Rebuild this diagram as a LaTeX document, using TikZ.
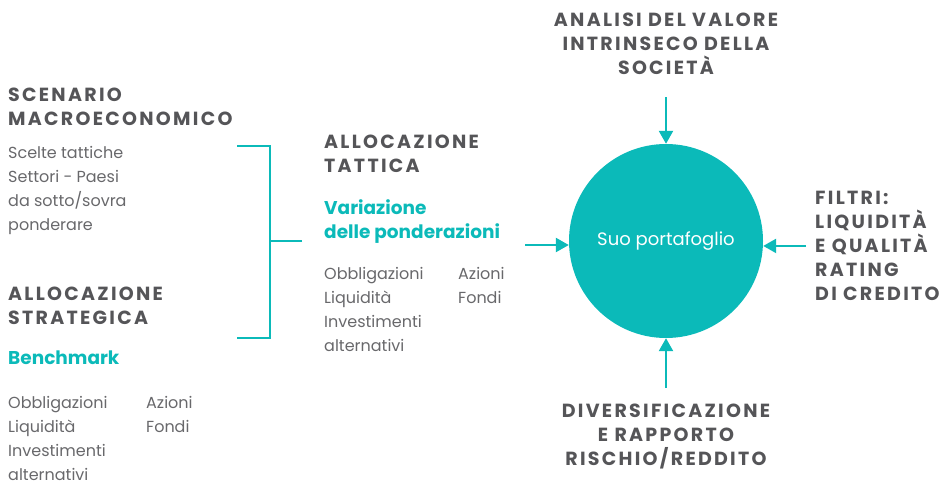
\documentclass[tikz,border=0pt]{standalone}
\usepackage{fontspec}
\setmainfont{Poppins}
\newfontfamily\titlefont[LetterSpace=12]{Poppins}
\usetikzlibrary{positioning, arrows.meta}

\definecolor{acqua}{HTML}{0BBAB9}
\definecolor{grigio}{HTML}{555558}
\definecolor{testo}{HTML}{68686B}

\tikzset{
  titolo/.style={font=\titlefont\bfseries\fontsize{19}{24}\selectfont, text=grigio,
                 align=left, inner sep=0pt, anchor=north west},
  corpo/.style={font=\fontsize{16}{24}\selectfont, text=testo, align=left,
                inner sep=0pt, anchor=north west},
  evid/.style={font=\bfseries\fontsize{18.5}{24}\selectfont, text=acqua, align=left,
               inner sep=0pt, anchor=north west},
  freccia/.style={draw=acqua, line width=2.4pt, -{Triangle[length=13pt,width=14pt]}},
  parentesi/.style={draw=acqua, line width=2.4pt},
}

\begin{document}
\begin{tikzpicture}[x=1pt, y=-1pt]
  \useasboundingbox (0,0) rectangle (942,482);

  % colonna sinistra
  \node[titolo] (macro) at (8,88) {SCENARIO\\MACROECONOMICO};
  \node[corpo] (macro-testo) at (8,146)
    {Scelte tattiche\\Settori - Paesi\\da sotto/sovra\\ponderare};
  \node[titolo] (strat) at (8,287) {ALLOCAZIONE\\STRATEGICA};
  \node[evid] (bench) at (8,351) {Benchmark};
  \node[corpo] (strat-lista) at (8,391)
    {\begin{tabular}{@{}p{138pt}@{}l@{}}
       Obbligazioni & Azioni\\ Liquidità & Fondi\\ Investimenti & \\ alternativi &
     \end{tabular}};

  % colonna centrale
  \node[titolo] (tatt) at (324,135) {ALLOCAZIONE\\TATTICA};
  \node[evid] (variaz) at (324,199) {Variazione\\delle ponderazioni};
  \node[corpo] (tatt-lista) at (324,262)
    {\begin{tabular}{@{}p{134pt}@{}l@{}}
       Obbligazioni & Azioni\\ Liquidità & Fondi\\ Investimenti & \\ alternativi &
     \end{tabular}};

  % portafoglio
  \node[circle, fill=acqua, minimum size=194pt, inner sep=0pt, text=white,
        font=\fontsize{18}{22}\selectfont] (port) at (666,241) {Suo portafoglio};

  \node[titolo, anchor=north, align=center] (analisi) at (666,13)
    {ANALISI DEL VALORE\\INTRINSECO DELLA\\SOCIETÀ};
  \node[titolo] (filtri) at (815,191)
    {FILTRI:\\LIQUIDITÀ\\E QUALITÀ\\RATING\\DI CREDITO};
  \node[titolo, anchor=north, align=center] (divers) at (666,404)
    {DIVERSIFICAZIONE\\E RAPPORTO\\RISCHIO/REDDITO};

  % parentesi
  \coordinate (br-su) at (237,146);
  \coordinate (br-giu) at (237,338);
  \coordinate (br-mid) at (302,241);
  \coordinate (tatt-out) at (525,245);
  \draw[parentesi] (br-su) -- ++(33,0) |- (br-giu);
  \draw[parentesi] (br-mid) -- ++(-32,0);

  % frecce
  \draw[freccia] (tatt-out) -- (tatt-out -| port.west);
  \draw[freccia] ([xshift=-9pt]filtri.west) -- (filtri.west -| port.east);
  \draw[freccia] (port.north |- 0,97) -- (port.north);
  \draw[freccia] (port.south |- 0,388) -- (port.south);
\end{tikzpicture}
\end{document}
